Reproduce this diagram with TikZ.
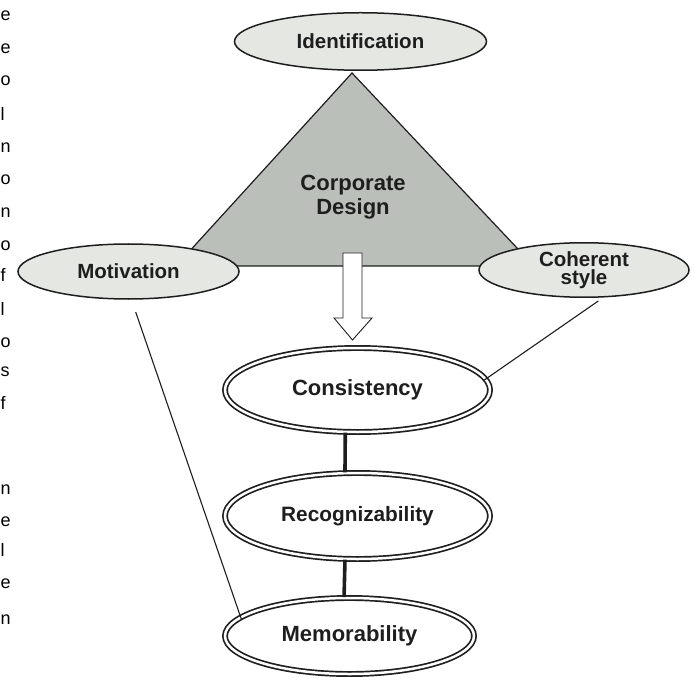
\documentclass[tikz,border=0pt]{standalone}
\usepackage{fontspec}
\setmainfont{Liberation Sans}
\usetikzlibrary{shapes.geometric}
\definecolor{ellfill}{RGB}{229,231,227}
\definecolor{trifill}{RGB}{186,191,186}
\definecolor{inkc}{RGB}{30,30,30}
\begin{document}
\begin{tikzpicture}[x=1pt,y=-1pt,
  lab/.style={font=\fontsize{20.5}{22}\selectfont\bfseries, align=center, text=inkc},
  biglab/.style={lab, font=\fontsize{22}{24}\selectfont\bfseries},
  oval/.style={ellipse, draw=inkc, line width=1.5pt, fill=ellfill, inner sep=0pt},
  dbl/.style={ellipse, draw=inkc, line width=1.7pt, double=white, double distance=2.5pt, inner sep=0pt},
  thinline/.style={draw=inkc, line width=1.1pt},
  thickline/.style={draw=inkc, line width=3.6pt},
  margin/.style={font=\fontsize{18}{20}\selectfont, anchor=base west, inner sep=0pt, text=black}]
\useasboundingbox (0,0) rectangle (695,684);
\fill[white] (0,0) rectangle (695,684);
% margin text fragments (ends of lines of page text)
\foreach \ch/\yy [count=\i] in {e/21,e/54,o/86,l/121,n/153,o/185,n/218,o/251,f/281,l/315,o/347,s/376,f/409,n/494,e/526,l/556,e/588,n/624}
  \node[margin] (m\i) at (0.4,\yy) {\ch};
% triangle
\coordinate (tA) at (352,73);
\coordinate (tL) at (176,266);
\coordinate (tR) at (534,266);
\filldraw[fill=trifill, draw=inkc, line width=1.2pt, line join=miter] (tA) -- (tL) -- (tR) -- cycle;
\node[biglab, font=\fontsize{22}{24.5}\selectfont\bfseries] (cd) at (353,197) {Corporate\\Design};
% hollow arrow
\filldraw[fill=white, draw=inkc, line width=0.9pt]
  (343,253) -- (362,253) -- (362,318) -- (372,318) -- (352.5,340) -- (334,318) -- (343,318) -- cycle;
% ellipses
\node[oval, minimum width=252pt, minimum height=57.5pt] (id) at (360.5,41.5) {};
\node[lab] at (id.center) {Identification};
\node[oval, minimum width=221pt, minimum height=55pt] (mot) at (128.5,271.5) {};
\node[lab] at (mot.center) {Motivation};
\node[oval, minimum width=210pt, minimum height=54.5pt] (coh) at (584,270) {};
\node[lab, font=\fontsize{20.5}{18.5}\selectfont\bfseries] at (coh.center) {Coherent\\style};
% double ellipses
\node[dbl, minimum width=265pt, minimum height=84pt] (cons) at (357.5,390) {};
\node[biglab] at (cons.center) {Consistency};
\node[dbl, minimum width=265pt, minimum height=86pt] (rec) at (357.5,516) {};
\node[lab, font=\fontsize{20.8}{22}\selectfont\bfseries] at (rec.center) {Recognizability};
\node[dbl, minimum width=249pt, minimum height=76pt] (mem) at (349.5,636) {};
\node[biglab] at (mem.center) {Memorability};
% connectors
\draw[thickline] (cons.-106) -- (rec.106);
\draw[thickline] (rec.-106) -- (mem.98);
\draw[thinline, shorten <=13pt, shorten >=-3pt] (mot.-84) -- (mem.170.5);
\draw[thinline, shorten <=6pt, shorten >=-3pt] (coh.-55) -- (cons.5.4);
\end{tikzpicture}
\end{document}
